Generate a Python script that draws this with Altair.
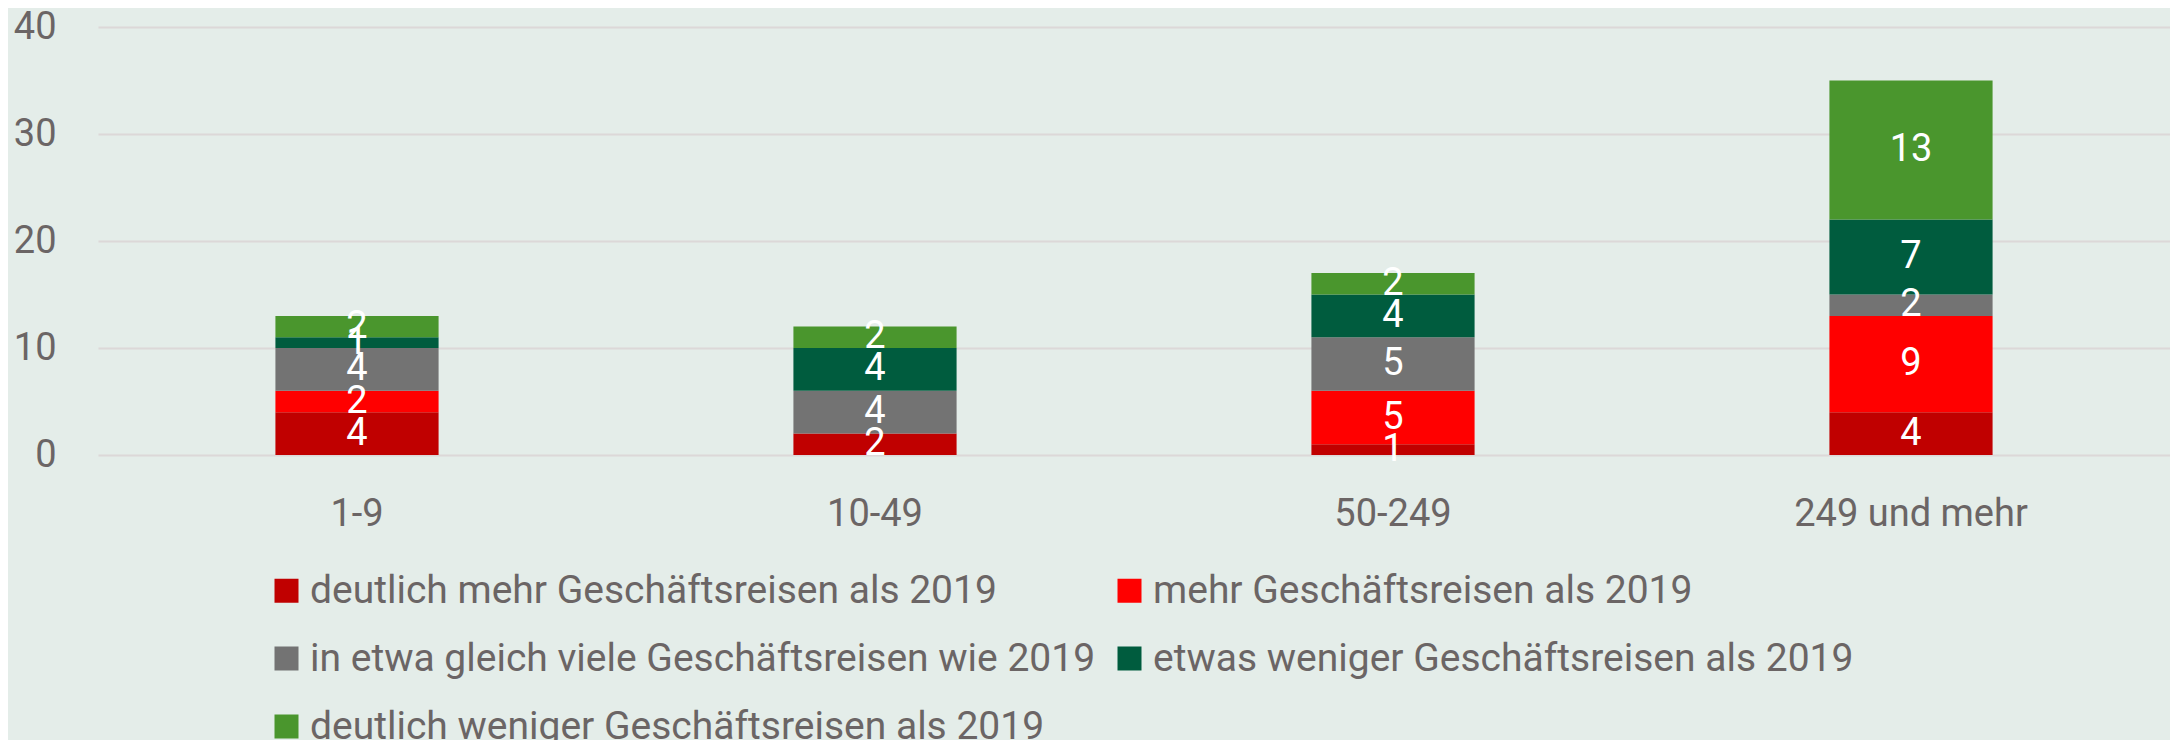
import altair as alt
import pandas as pd

sizes = ["1-9", "10-49", "50-249", "249 und mehr"]
categories = [
    "deutlich mehr Geschäftsreisen als 2019",
    "mehr Geschäftsreisen als 2019",
    "in etwa gleich viele Geschäftsreisen wie 2019",
    "etwas weniger Geschäftsreisen als 2019",
    "deutlich weniger Geschäftsreisen als 2019",
]
colors = ["#c00000", "#ff0000", "#737373", "#005c3e", "#4a962d"]

deutlich_mehr = [4, 2, 1, 4]
mehr = [2, 0, 5, 9]
gleich = [4, 4, 5, 2]
etwas_weniger = [1, 4, 4, 7]
deutlich_weniger = [2, 2, 2, 13]
series = [deutlich_mehr, mehr, gleich, etwas_weniger, deutlich_weniger]

rows = []
for ci, (cat, vals) in enumerate(zip(categories, series)):
    for s, v in zip(sizes, vals):
        rows.append({"size": s, "cat": cat, "idx": ci, "value": v})
df = pd.DataFrame(rows)

FONT = "Roboto"
TEXT = "#6b6565"
BG = "#e4ede9"

base = alt.Chart(df).transform_stack(
    stack="value",
    groupby=["size"],
    sort=[alt.SortField("idx", order="ascending")],
    as_=["y0", "y1"],
).transform_calculate(mid="(datum.y0 + datum.y1) / 2")

x_axis = alt.Axis(
    title=None, labelAngle=0, domain=False, ticks=False, labelLimit=0,
    labelFontSize=38, labelFont=FONT, labelColor=TEXT, labelPadding=40,
)
y_axis = alt.Axis(
    title=None, values=[0, 10, 20, 30, 40], domain=False, ticks=False,
    grid=True, gridColor="#dcd8d8", gridWidth=2,
    labelFontSize=38, labelFont=FONT, labelColor=TEXT, labelPadding=42,
)
x_scale = alt.Scale(paddingInner=0.685, paddingOuter=0.3425)
y_scale = alt.Scale(domain=[0, 40])

bars = base.mark_bar().encode(
    x=alt.X("size:N", sort=sizes, scale=x_scale, axis=x_axis),
    y=alt.Y("y0:Q", scale=y_scale, axis=y_axis),
    y2="y1:Q",
    color=alt.Color(
        "cat:N",
        sort=categories,
        scale=alt.Scale(domain=categories, range=colors),
        legend=alt.Legend(
            title=None, orient="none", legendX=169, legendY=544,
            direction="horizontal", columns=2,
            symbolType="square", symbolSize=576, symbolStrokeWidth=0,
            symbolOpacity=1,
            labelFontSize=39, labelFont=FONT, labelColor=TEXT,
            labelLimit=0, labelOffset=4, rowPadding=28, columnPadding=14,
            padding=0,
        ),
    ),
)

text = base.transform_filter("datum.value > 0").mark_text(
    color="white", fontSize=38, font=FONT, baseline="middle", align="center"
).encode(
    x=alt.X("size:N", sort=sizes, scale=x_scale, axis=x_axis),
    y=alt.Y("mid:Q", scale=y_scale, axis=y_axis),
    text="value:Q",
)

chart = alt.layer(bars, text).properties(
    width=2072,
    height=428,
    background=BG,
    padding={"left": 90, "top": 19, "right": 0, "bottom": 285},
    autosize=alt.AutoSizeParams(type="none"),
).configure_view(stroke=None)

chart.save("out.html", embed_options={"renderer": "svg", "actions": False})
